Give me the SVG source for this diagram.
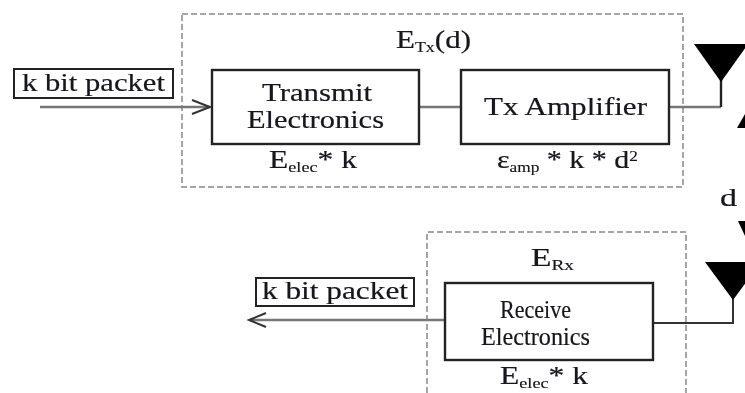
<svg xmlns="http://www.w3.org/2000/svg" width="745" height="393" viewBox="0 0 745 393">
<defs><filter id="soft" x="-5%" y="-5%" width="110%" height="110%"><feGaussianBlur stdDeviation="0.45"/></filter></defs>
<style>
text{font-family:"Liberation Serif","Times New Roman",serif;fill:#14141e;font-size:26px;stroke:#14141e;stroke-width:0.2}
.b{fill:#fff;stroke:#222;stroke-width:2.4}
.l{fill:#fff;stroke:#222;stroke-width:2}
.d{fill:none;stroke:#888;stroke-width:1.5;stroke-dasharray:6 3}
.c{fill:none;stroke:#777;stroke-width:2.6}
.a{fill:none;stroke:#333;stroke-width:2}
.s{font-size:15px;stroke-width:0.15}
.t{filter:url(#soft)}
</style>
<g class="t">
<g id="tx-boundary"><rect class="d" x="182" y="14" width="501" height="173"/>
<text x="396" y="48" textLength="75" lengthAdjust="spacingAndGlyphs"><tspan>E</tspan><tspan class="s" dy="4">Tx</tspan><tspan dy="-4">(d)</tspan></text></g>
<g id="rx-boundary"><path class="d" d="M427 393V232H686V393"/>
<text x="531" y="266" textLength="43" lengthAdjust="spacingAndGlyphs"><tspan>E</tspan><tspan class="s" dy="4">Rx</tspan></text></g>
<g id="connectors">
<path class="c" d="M40 107H210"/>
<path class="a" d="M192 100L210 107L192 114"/>
<path class="c" d="M420 107H461"/>
<path class="c" d="M670 107H721"/>
<path d="M721 107V78" fill="none" stroke="#222" stroke-width="2.4"/>
<path class="c" d="M444 320H250"/>
<path class="a" d="M266 313L249 320L266 327"/>
<path d="M654 323H733V296" fill="none" stroke="#333" stroke-width="2"/>
</g>
<g id="in-label"><rect class="l" x="14" y="69" width="159" height="29"/><text x="22" y="91" textLength="143" lengthAdjust="spacingAndGlyphs">k bit packet</text></g>
<g id="transmit"><rect class="b" x="212" y="70" width="207" height="74"/>
<text x="262" y="101" textLength="110" lengthAdjust="spacingAndGlyphs">Transmit</text><text x="247" y="128" textLength="137" lengthAdjust="spacingAndGlyphs">Electronics</text>
<text x="269" y="168" textLength="88" lengthAdjust="spacingAndGlyphs"><tspan>E</tspan><tspan class="s" dy="4">elec</tspan><tspan dy="-4">* k</tspan></text></g>
<g id="amplifier"><rect class="b" x="461" y="70" width="208" height="74"/>
<text x="484" y="115" textLength="163" lengthAdjust="spacingAndGlyphs">Tx Amplifier</text>
<text x="497" y="168" textLength="141" lengthAdjust="spacingAndGlyphs"><tspan>ε</tspan><tspan class="s" dy="4">amp</tspan><tspan dy="-4"> * k * d</tspan><tspan class="s" dy="-7">2</tspan></text></g>
<g id="tx-antenna"><polygon points="694,44 748,44 721,82" fill="#000"/></g>
<g id="distance"><polygon points="745,114 745,128 737,128" fill="#000"/><text x="720" y="206" textLength="17" lengthAdjust="spacingAndGlyphs" stroke-width="0.5">d</text><polygon points="738,221 745,221 745,236" fill="#000"/></g>
<g id="receive"><rect class="b" x="445" y="283" width="208" height="77"/>
<text x="500" y="318" textLength="71" lengthAdjust="spacingAndGlyphs">Receive</text><text x="481" y="345" textLength="109" lengthAdjust="spacingAndGlyphs">Electronics</text>
<text x="500" y="384" textLength="88" lengthAdjust="spacingAndGlyphs"><tspan>E</tspan><tspan class="s" dy="4">elec</tspan><tspan dy="-4">* k</tspan></text></g>
<g id="out-label"><rect class="l" x="256" y="278" width="158" height="28"/><text x="262" y="299" textLength="146" lengthAdjust="spacingAndGlyphs">k bit packet</text></g>
<g id="rx-antenna"><polygon points="705,262 761,262 733,300" fill="#000"/></g>
</g>
</svg>
